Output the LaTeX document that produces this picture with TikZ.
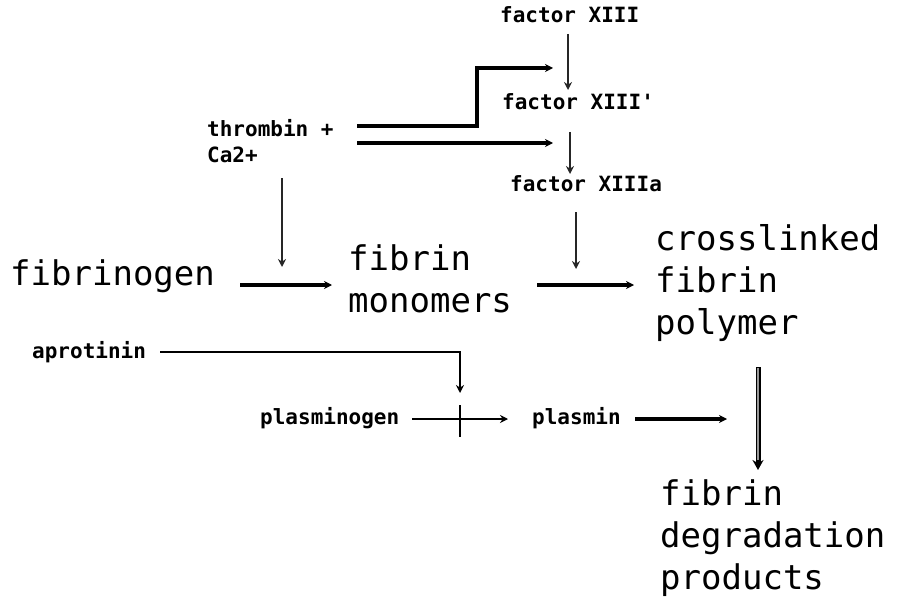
\documentclass[tikz,border=0pt]{standalone}
\usepackage{fontspec}
\setmonofont{DejaVu Sans Mono}
\usetikzlibrary{arrows.meta,calc}
\begin{document}
\begin{tikzpicture}[x=1pt,y=-1pt,
  big/.style={font=\ttfamily\fontsize{34}{42}\selectfont, inner sep=0pt, align=left},
  small/.style={font=\ttfamily\bfseries\fontsize{21}{25}\selectfont, inner sep=0pt, align=left},
  tip/.style={-{Stealth[length=8pt,width=8pt]}},
  heavy/.style={tip, line width=3.2pt},
  thin/.style={tip, line width=1.8pt, draw=black!85},
]
\useasboundingbox (0,0) rectangle (897,599);

% substances (base anchor = baseline of the last line)
\node[small, anchor=base west] (f13)   at (500,23)  {factor XIII};
\node[small, anchor=base west] (f13p)  at (502,110) {factor XIII'};
\node[small, anchor=base west] (f13a)  at (510,191) {factor XIIIa};
\node[small, anchor=base west] (thr)   at (207,162) {thrombin +\\Ca2+};
\node[big,   anchor=base west] (fbg)   at (10,285)  {fibrinogen};
\node[big,   anchor=base west] (mono)  at (348,312) {fibrin\\monomers};
\node[big,   anchor=base west] (poly)  at (655,334) {crosslinked\\fibrin\\polymer};
\node[small, anchor=base west] (apro)  at (32,358)  {aprotinin};
\node[small, anchor=base west] (plg)   at (260,424) {plasminogen};
\node[small, anchor=base west] (pls)   at (532,424) {plasmin};
\node[big,   anchor=base west] (fdp)   at (660,589) {fibrin\\degradation\\products};

% junction and end points
\coordinate (thrA) at (357,126);
\coordinate (thrB) at (357,143);
\coordinate (bend) at (477,68);
\coordinate (block) at (460,419);
\coordinate (degA) at (758,367);
\coordinate (degB) at (758,470);

% thrombin activates factor XIII
\draw[heavy] (thrA) -- (thrA -| bend) -- (bend) -- (553,68);
\draw[heavy] (thrB) -- (553,143);

% factor XIII activation steps
\draw[thin] (568,34) -- (568,90);
\draw[thin] (570,132) -- (570,174);
\draw[thin] (576,212) -- (576,269);

% thrombin cleaves fibrinogen
\draw[thin] (282,178) -- (282,267);

% main pathway
\draw[heavy] (240,285) -- (332,285);
\draw[heavy] (537,285) -- (634,285);

% fibrinolysis, blocked by aprotinin
\draw[tip, line width=2pt] (160,352) -- (block |- 0,352) -- (block |- 0,393);
\draw[tip, line width=2pt] (412,419) -- (508,419);
\draw[line width=2.6pt] (block |- 0,405) -- (block |- 0,437);
\draw[heavy] (635,419) -- (727,419);

% degradation of the polymer: grey shaft with dark rims
\draw[line width=5pt, -{Stealth[length=10pt,width=11pt]}] (degA) -- (degB);
\draw[line width=2.2pt, black!40, shorten >=10pt, shorten <=1pt] (degA) -- (degB);
\end{tikzpicture}
\end{document}
